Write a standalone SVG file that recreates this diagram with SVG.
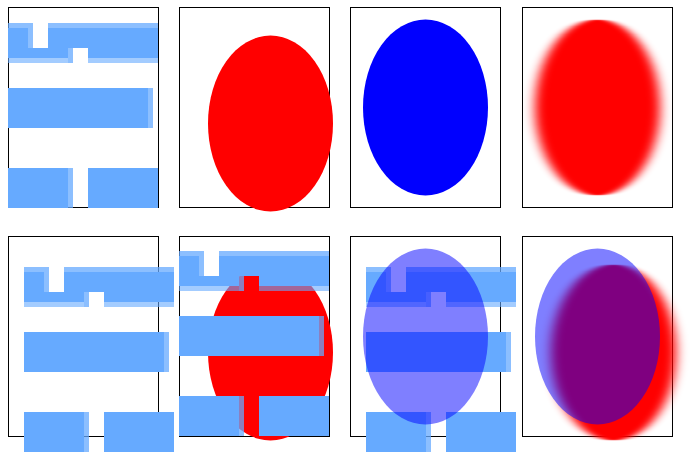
<svg xmlns="http://www.w3.org/2000/svg" xmlns:xlink="http://www.w3.org/1999/xlink" width="700" height="460" viewBox="0 0 700 460">
<style>
.frame{fill:none;stroke:#000;stroke-width:1}
.main{fill:#66aaff}
.side{fill:#66aaff;fill-opacity:0.75}
.low{fill:#66aaff;fill-opacity:0.6}
.red{fill:#ff0000}
.blue{fill:#0000ff}
.halfblue{fill:#0000ff;fill-opacity:0.5}
</style>
<defs>
<filter id="hblur" x="-25%" y="-5%" width="150%" height="110%">
<feGaussianBlur stdDeviation="6 0"/>
</filter>
<g id="tiles">
<rect class="side" x="0" y="0" width="25" height="5"/>
<rect class="side" x="40" y="0" width="110" height="5"/>
<rect class="side" x="20" y="5" width="5" height="20"/>
<path class="main" d="M0,5H20V25H60V35H0Z M40,5H150V35H80V25H40Z"/>
<rect class="side" x="60" y="25" width="5" height="15"/>
<rect class="low" x="0" y="35" width="60" height="5"/>
<rect class="low" x="80" y="35" width="70" height="5"/>
<rect class="main" x="0" y="65" width="140" height="40"/>
<rect class="side" x="140" y="65" width="5" height="40"/>
<rect class="main" x="0" y="145" width="60" height="40"/>
<rect class="side" x="60" y="145" width="5" height="40"/>
<rect class="main" x="80" y="145" width="70" height="40"/>
</g>
</defs>
<g id="panel-1">
<rect class="frame" x="8.5" y="7.5" width="150" height="200"/>
<use xlink:href="#tiles" href="#tiles" transform="translate(8,23)"/>
</g>
<g id="panel-2">
<rect class="frame" x="179.5" y="7.5" width="150" height="200"/>
<ellipse class="red" cx="270.5" cy="123.5" rx="62.5" ry="88"/>
</g>
<g id="panel-3">
<rect class="frame" x="350.5" y="7.5" width="150" height="200"/>
<ellipse class="blue" cx="425.5" cy="107.5" rx="62.5" ry="88"/>
</g>
<g id="panel-4">
<rect class="frame" x="522.5" y="7.5" width="150" height="200"/>
<ellipse class="red" cx="597.5" cy="107.5" rx="62.5" ry="88" filter="url(#hblur)"/>
</g>
<g id="panel-5">
<rect class="frame" x="8.5" y="236.5" width="150" height="200"/>
<use xlink:href="#tiles" href="#tiles" transform="translate(24,267)"/>
</g>
<g id="panel-6">
<rect class="frame" x="179.5" y="236.5" width="150" height="200"/>
<ellipse class="red" cx="270.5" cy="352.5" rx="62.5" ry="88"/>
<use xlink:href="#tiles" href="#tiles" transform="translate(179,251)"/>
</g>
<g id="panel-7">
<rect class="frame" x="350.5" y="236.5" width="150" height="200"/>
<use xlink:href="#tiles" href="#tiles" transform="translate(366,267)"/>
<ellipse class="halfblue" cx="425.5" cy="336.5" rx="62.5" ry="88"/>
</g>
<g id="panel-8">
<rect class="frame" x="522.5" y="236.5" width="150" height="200"/>
<ellipse class="red" cx="613.5" cy="352.5" rx="62.5" ry="88" filter="url(#hblur)"/>
<ellipse class="halfblue" cx="597.5" cy="336.5" rx="62.5" ry="88"/>
</g>
</svg>
